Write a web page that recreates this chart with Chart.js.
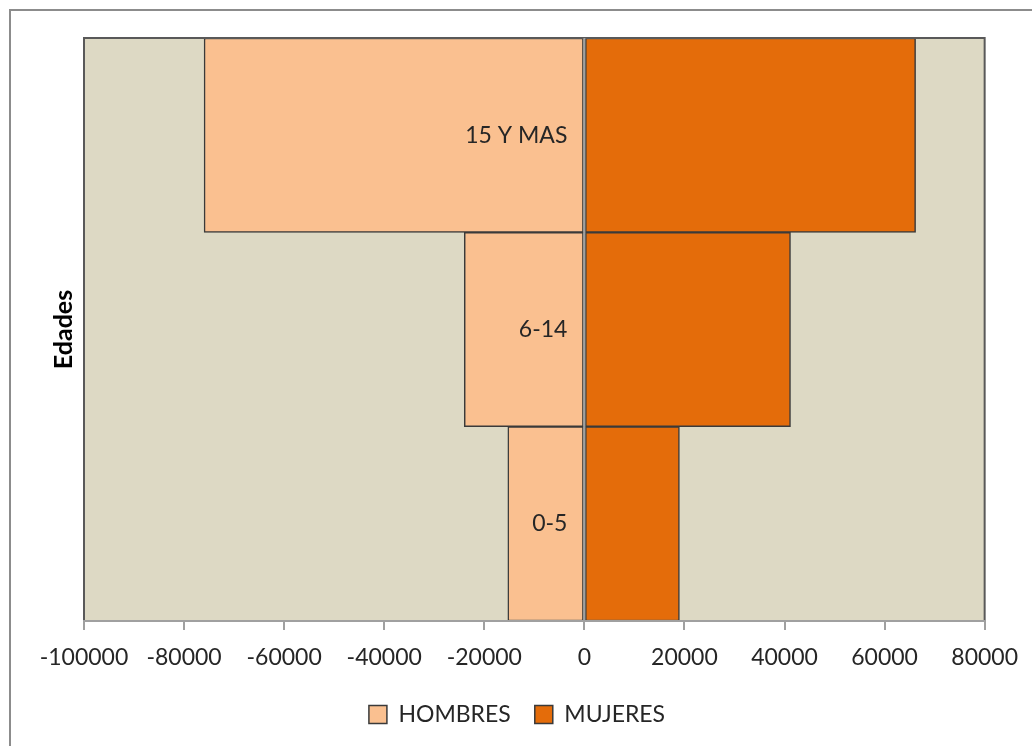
<!DOCTYPE html>
<html>
<head>
  <title>Pirámide de edades</title>
  <script src="https://cdn.jsdelivr.net/npm/chart.js"></script>
  <style>
    body { margin: 0; background: #fff; }
    #wrap { width: 1032px; height: 746px; }
  </style>
</head>
<body>
  <div id="wrap"><canvas id="pyramid"></canvas></div>

  <script>
    // data
    let edades = ["15 Y MAS", "6-14", "0-5"];
    let hombres = [-76000, -24000, -15300];
    let mujeres = [66200, 41200, 19000];
    let xTicks = [-100000, -80000, -60000, -40000, -20000, 0, 20000, 40000, 60000, 80000];

    let font = "Lato, 'Open Sans', sans-serif";
    let textColor = "#262626";

    // plot background, outer frame, plot frame and age labels next to the zero line
    let framePlugin = {
      id: "frame",
      beforeDraw(chart) {
        let ctx = chart.ctx;
        let a = chart.chartArea;
        ctx.save();
        ctx.fillStyle = "#fff";
        ctx.fillRect(0, 0, chart.width, chart.height);
        ctx.strokeStyle = "#8c8c8c";
        ctx.lineWidth = 2;
        ctx.strokeRect(10, 10, chart.width + 20, chart.height + 20);
        ctx.fillStyle = "#ddd9c4";
        ctx.fillRect(a.left, a.top, a.right - a.left, a.bottom - a.top);
        ctx.restore();
      },
      afterDatasetsDraw(chart) {
        let ctx = chart.ctx;
        let a = chart.chartArea;
        let x = chart.scales.x;
        let y = chart.scales.y;
        ctx.save();
        ctx.strokeStyle = "#595959";
        ctx.lineWidth = 2;
        ctx.beginPath();
        ctx.moveTo(a.left, a.bottom);
        ctx.lineTo(a.left, a.top);
        ctx.lineTo(a.right, a.top);
        ctx.lineTo(a.right, a.bottom);
        ctx.stroke();

        // zero line
        let x0 = x.getPixelForValue(0);
        ctx.strokeStyle = "#a0a0a0";
        ctx.lineWidth = 2;
        ctx.beginPath();
        ctx.moveTo(x0, a.top);
        ctx.lineTo(x0, a.bottom);
        ctx.stroke();

        ctx.fillStyle = textColor;
        ctx.font = "23px " + font;
        ctx.textAlign = "right";
        ctx.textBaseline = "middle";
        edades.forEach((lab, i) => {
          ctx.fillText(lab, x0 - 17, y.getPixelForValue(i));
        });
        ctx.restore();
      }
    };

    new Chart(document.getElementById("pyramid"), {
      type: "bar",
      data: {
        labels: edades,
        datasets: [
          {
            label: "HOMBRES",
            data: hombres,
            backgroundColor: "#fac090",
            borderColor: "#3a3a3a",
            borderWidth: 1.5,
            borderSkipped: false
          },
          {
            label: "MUJERES",
            data: mujeres,
            backgroundColor: "#e46c0a",
            borderColor: "#3a3a3a",
            borderWidth: 1.5,
            borderSkipped: false
          }
        ]
      },
      options: {
        indexAxis: "y",
        responsive: true,
        maintainAspectRatio: false,
        animation: false,
        datasets: {
          bar: { barPercentage: 1, categoryPercentage: 1 }
        },
        layout: {
          padding: { left: 49, top: 38, right: 47, bottom: 10 }
        },
        scales: {
          x: {
            stacked: true,
            min: -100000,
            max: 80000,
            afterBuildTicks: (scale) => {
              scale.ticks = xTicks.map(v => ({ value: v }));
            },
            afterFit: (scale) => { scale.height = 58; },
            grid: {
              drawOnChartArea: false,
              drawTicks: true,
              tickLength: 9,
              color: "#a0a0a0",
              lineWidth: 2
            },
            border: { display: true, color: "#a0a0a0", width: 2, z: 1 },
            ticks: {
              color: textColor,
              padding: 14,
              font: { family: font, size: 23 },
              callback: (v) => String(v)
            }
          },
          y: {
            stacked: true,
            afterFit: (scale) => { scale.width = 35; },
            grid: { display: false },
            border: { display: false },
            ticks: { display: false },
            title: {
              display: true,
              text: "Edades",
              color: "#000",
              padding: 0,
              font: { family: font, size: 25, weight: "bold" }
            }
          }
        },
        plugins: {
          legend: {
            position: "bottom",
            labels: {
              color: textColor,
              boxWidth: 18,
              boxHeight: 18,
              padding: 24,
              font: { family: font, size: 23 }
            }
          },
          tooltip: { enabled: false }
        }
      },
      plugins: [framePlugin]
    });
  </script>
</body>
</html>
